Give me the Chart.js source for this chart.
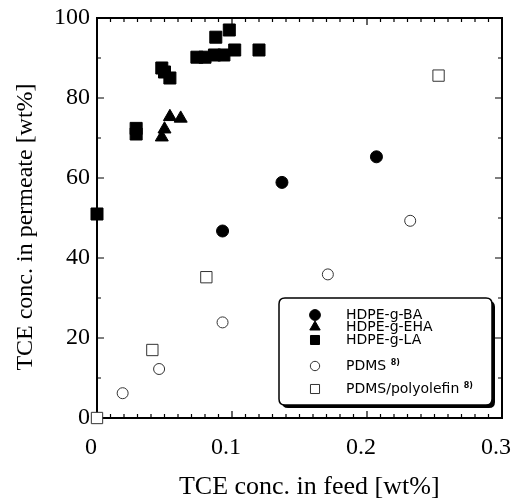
<!DOCTYPE html>
<html><head><meta charset="utf-8">
<script src="https://cdn.jsdelivr.net/npm/chart.js@4/dist/chart.umd.min.js"></script>
<style>html,body{margin:0;padding:0;background:#fff;} #wrap{width:519px;height:501px;}</style>
</head><body><div id="wrap"><canvas id="c" width="519" height="501"></canvas></div>
<script>
// ---- data ----
const baFeed   = [0.093, 0.137, 0.207];
const baPerm   = [46.75, 58.9, 65.3];
const ehaFeed  = [0.048, 0.050, 0.054, 0.062];
const ehaPerm  = [70.2, 72.2, 75.3, 74.9];
const laFeed   = [0.000, 0.029, 0.029, 0.048, 0.050, 0.054, 0.074, 0.080, 0.087, 0.094, 0.102, 0.088, 0.098, 0.120];
const laPerm   = [51.0, 72.4, 71.0, 87.5, 86.5, 85.0, 90.2, 90.2, 90.75, 90.75, 92.0, 95.2, 97.0, 92.0];
const pdmsFeed = [0.019, 0.046, 0.093, 0.171, 0.232];
const pdmsPerm = [6.2, 12.25, 23.9, 35.9, 49.3];
const polyFeed = [0.000, 0.041, 0.081, 0.253];
const polyPerm = [0.0, 17.0, 35.2, 85.6];
const seriesNames = ['HDPE-g-BA', 'HDPE-g-EHA', 'HDPE-g-LA', 'PDMS', 'PDMS/polyolefin'];
const seriesRefs  = ['', '', '', '8)', '8)'];
const xTickLabels = ['0', '0.1', '0.2', '0.3'];
const yTickLabels = ['0', '20', '40', '60', '80', '100'];

function pts(xs, ys){ return xs.map((v,i)=>({x:v, y:ys[i]})); }
function mk(label, xs, ys, style, r, fill, stroke, bw){
  return {label, data:pts(xs,ys), pointStyle:style, pointRadius:r, pointHoverRadius:r,
    backgroundColor:fill, borderColor:stroke, borderWidth:bw, clip:false, showLine:false};
}

const frame = {
  id:'frame',
  beforeDatasetsDraw(chart){
    const {ctx, chartArea:a, scales:{x, y}} = chart;
    ctx.save();
    ctx.strokeStyle = '#000';
    ctx.lineWidth = 2;
    ctx.strokeRect(a.left, a.top, a.right-a.left, a.bottom-a.top);
    ctx.lineWidth = 1.2;
    ctx.beginPath();
    for(let i=0;i<=30;i++){
      const px = x.getPixelForValue(i/100);
      const L = i%10===0 ? 7 : 4;
      ctx.moveTo(px, a.bottom); ctx.lineTo(px, a.bottom-L);
      ctx.moveTo(px, a.top);    ctx.lineTo(px, a.top+L);
    }
    for(let i=0;i<=10;i++){
      const py = y.getPixelForValue(i*10);
      const L = i%2===0 ? 7 : 4;
      ctx.moveTo(a.left, py);  ctx.lineTo(a.left+L, py);
      ctx.moveTo(a.right, py); ctx.lineTo(a.right-L, py);
    }
    ctx.stroke();
    ctx.restore();
  }
};

function rr(ctx, x, y, w, h, r){
  ctx.beginPath();
  ctx.moveTo(x+r, y); ctx.lineTo(x+w-r, y); ctx.quadraticCurveTo(x+w, y, x+w, y+r);
  ctx.lineTo(x+w, y+h-r); ctx.quadraticCurveTo(x+w, y+h, x+w-r, y+h);
  ctx.lineTo(x+r, y+h); ctx.quadraticCurveTo(x, y+h, x, y+h-r);
  ctx.lineTo(x, y+r); ctx.quadraticCurveTo(x, y, x+r, y);
  ctx.closePath();
}

const legendBox = {
  id:'legendBox',
  afterDraw(chart){
    const ctx = chart.ctx;
    const bx=279, by=298, bw=213, bh=107;
    ctx.save();
    ctx.fillStyle = '#000';
    rr(ctx, bx+3, by+3, bw, bh, 6); ctx.fill();
    ctx.fillStyle = '#fff';
    rr(ctx, bx, by, bw, bh, 6); ctx.fill();
    ctx.strokeStyle = '#000'; ctx.lineWidth = 1.5; ctx.stroke();
    const rows = [315, 327, 340, 366, 389];
    const scale = [0.9, 0.8, 0.75, 0.85, 0.8];
    chart.data.datasets.forEach((ds, i) => {
      ctx.fillStyle = ds.backgroundColor;
      ctx.strokeStyle = ds.borderColor;
      ctx.lineWidth = ds.borderWidth;
      Chart.helpers.drawPoint(ctx, {pointStyle: ds.pointStyle, radius: ds.pointRadius*scale[i], borderWidth: ds.borderWidth, rotation:0}, 315, rows[i]);
      ctx.fillStyle = '#000';
      ctx.font = '14px "DejaVu Sans"';
      ctx.textBaseline = 'middle';
      ctx.textAlign = 'left';
      ctx.fillText(ds.label, 346, rows[i]);
      if (seriesRefs[i]) {
        const w = ctx.measureText(ds.label + ' ').width;
        ctx.font = 'bold 8px "DejaVu Sans"';
        ctx.fillText(seriesRefs[i], 346 + w, rows[i]-3);
      }
    });
    ctx.restore();
  }
};

new Chart(document.getElementById('c'), {
  type:'scatter',
  data:{datasets:[
    mk(seriesNames[0], baFeed, baPerm, 'circle', 6, '#000', '#000', 1),
    mk(seriesNames[1], ehaFeed, ehaPerm, 'triangle', 7.5, '#000', '#000', 1),
    mk(seriesNames[2], laFeed, laPerm, 'rect', 8.5, '#000', '#000', 1),
    mk(seriesNames[3], pdmsFeed, pdmsPerm, 'circle', 5.5, '#fff', '#333', 1),
    mk(seriesNames[4], polyFeed, polyPerm, 'rect', 8, '#fff', '#333', 1)
  ]},
  options:{
    responsive:false, animation:false, events:[],
    layout:{padding:{top:18, right:17, left:0, bottom:0}},
    plugins:{legend:{display:false}, tooltip:{enabled:false}},
    scales:{
      x:{type:'linear', min:0, max:0.3,
        afterFit(s){ s.height = 83; s.paddingLeft = 0; s.paddingRight = 0; },
        ticks:{stepSize:0.1, padding:15, color:'#000', labelOffset:-6,
          font:{family:'Liberation Serif', size:24},
          callback:(v,i)=>xTickLabels[i]},
        grid:{display:false, drawTicks:false}, border:{display:false},
        title:{display:true, text:'   TCE conc. in feed [wt%]', color:'#000',
          font:{family:'Liberation Serif', size:26, lineHeight:1}, padding:{top:0, bottom:1}}
      },
      y:{type:'linear', min:0, max:100,
        afterFit(s){ s.width = 97; s.paddingTop = 0; s.paddingBottom = 0; },
        ticks:{stepSize:20, padding:7, color:'#000',
          font:{family:'Liberation Serif', size:24},
          callback:(v,i)=>yTickLabels[i]},
        grid:{display:false, drawTicks:false}, border:{display:false},
        title:{display:true, text:'TCE conc. in permeate [wt%]   ', color:'#000',
          font:{family:'Liberation Serif', size:24, lineHeight:1.2}, padding:{top:11, bottom:0}}
      }
    }
  },
  plugins:[frame, legendBox]
});
</script>
</body></html>
